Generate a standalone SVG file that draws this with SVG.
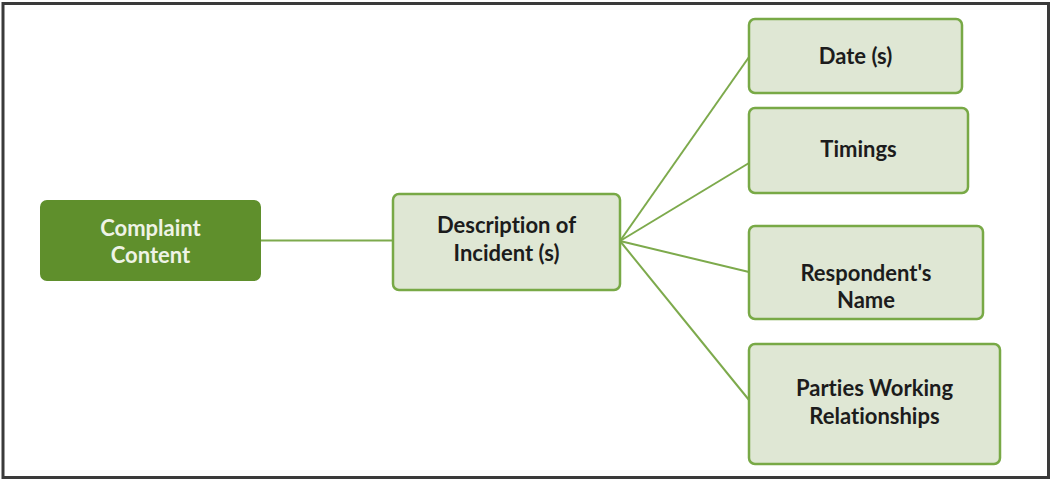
<svg xmlns="http://www.w3.org/2000/svg" width="1052" height="483" viewBox="0 0 1052 483">
<style>
.box{fill:#dfe7d4;stroke:#78a946;stroke-width:2.5}
.main{fill:#5f8f2c;stroke:#5f8f2c;stroke-width:2}
.t{font-family:Lato,"Liberation Sans",sans-serif;font-weight:bold;font-size:22px;fill:#1c1c1c;text-anchor:middle;font-variant-ligatures:none}
.tw{font-family:Lato,"Liberation Sans",sans-serif;font-weight:bold;font-size:22px;fill:#eef3e6;text-anchor:middle;font-variant-ligatures:none}
.c{stroke:#7daa4c;stroke-width:2;fill:none}
</style>
<rect x="0" y="0" width="1052" height="483" fill="#fff"/>
<rect x="3" y="3.5" width="1045.5" height="474" fill="none" stroke="#3a3a3a" stroke-width="3"/>
<g id="connectors">
<line class="c" x1="260" y1="240.5" x2="393" y2="240.5"/>
<line class="c" x1="620" y1="241" x2="749" y2="57"/>
<line class="c" x1="620" y1="241" x2="749" y2="163"/>
<line class="c" x1="620" y1="241" x2="749" y2="272"/>
<line class="c" x1="620" y1="241" x2="749" y2="400"/>
</g>
<g id="complaint">
<rect class="main" x="41" y="201" width="219" height="79" rx="6"/>
<text class="tw" x="150.5" y="236">Complaint</text>
<text class="tw" x="150.5" y="263">Content</text>
</g>
<g id="description">
<rect class="box" x="393" y="194" width="227" height="96" rx="6"/>
<text class="t" x="506.5" y="233">Description of</text>
<text class="t" x="506.5" y="261">Incident (s)</text>
</g>
<g id="dates">
<rect class="box" x="749" y="19" width="213" height="74" rx="6"/>
<text class="t" x="855.5" y="64">Date (s)</text>
</g>
<g id="timings">
<rect class="box" x="749" y="108" width="219" height="85" rx="6"/>
<text class="t" x="858.5" y="157">Timings</text>
</g>
<g id="respondent">
<rect class="box" x="749" y="226" width="234" height="93" rx="6"/>
<text class="t" x="866" y="281">Respondent's</text>
<text class="t" x="866" y="308">Name</text>
</g>
<g id="parties">
<rect class="box" x="749" y="344" width="251" height="120" rx="6"/>
<text class="t" x="874.5" y="396">Parties Working</text>
<text class="t" x="874.5" y="424">Relationships</text>
</g>
</svg>
